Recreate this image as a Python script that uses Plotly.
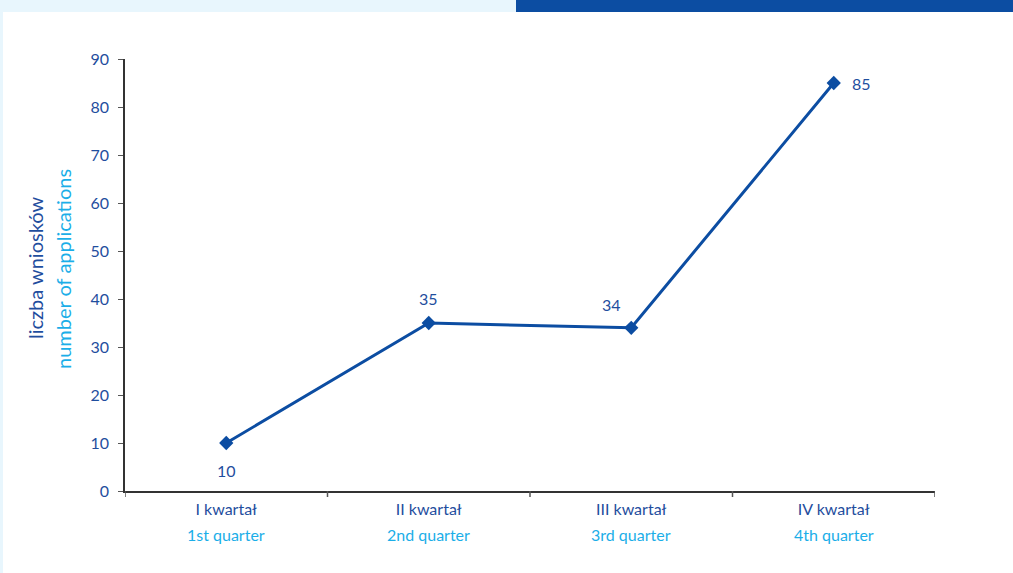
import plotly.graph_objects as go

categories_pl = ["I kwartał", "II kwartał", "III kwartał", "IV kwartał"]
categories_en = ["1st quarter", "2nd quarter", "3rd quarter", "4th quarter"]
values = [10, 35, 34, 85]
y_ticks = list(range(0, 91, 10))

DARK = "#1F4E9E"
LIGHT = "#1BAEE8"
LINE = "#0C4DA2"
FONT = "Lato, sans-serif"

W, H = 1013, 573
L, R, T, B = 125, 935, 59, 491

def px_x(p):
    return (p - L) / (R - L)

def px_y(p):
    return (B - p) / (B - T)

# label offsets (pixels) for each data label
label_shift = [(0, -27), (0, 25), (-20, 23), (28, 0)]

fig = go.Figure()
fig.add_trace(go.Scatter(
    x=list(range(len(values))), y=values,
    mode="lines+markers",
    line=dict(color=LINE, width=3),
    marker=dict(symbol="diamond", size=11, color=LINE),
    cliponaxis=False,
    hoverinfo="skip",
))

for i, v in enumerate(values):
    dx, dy = label_shift[i]
    fig.add_annotation(x=i, y=v, text=str(v), showarrow=False, xshift=dx, yshift=dy,
                       xanchor="center", yanchor="middle",
                       font=dict(family=FONT, size=16, color=DARK))

for i, t in enumerate(categories_en):
    fig.add_annotation(x=i, y=px_y(534), yref="paper", text=t, showarrow=False,
                       xanchor="center", yanchor="middle",
                       font=dict(family=FONT, size=16, color=LIGHT))

fig.add_annotation(x=px_x(35), y=px_y(268), xref="paper", yref="paper", text="liczba wniosków",
                   textangle=-90, showarrow=False, xanchor="center", yanchor="middle",
                   font=dict(family=FONT, size=20, color=DARK))
fig.add_annotation(x=px_x(63), y=px_y(269), xref="paper", yref="paper", text="number of applications",
                   textangle=-90, showarrow=False, xanchor="center", yanchor="middle",
                   font=dict(family=FONT, size=20, color=LIGHT))

shapes = [
    dict(type="rect", xref="paper", yref="paper", x0=px_x(0), x1=px_x(516), y0=px_y(12), y1=px_y(0),
         fillcolor="#E8F6FD", line=dict(width=0), layer="below"),
    dict(type="rect", xref="paper", yref="paper", x0=px_x(516), x1=px_x(W), y0=px_y(12), y1=px_y(0),
         fillcolor=LINE, line=dict(width=0), layer="below"),
    dict(type="rect", xref="paper", yref="paper", x0=px_x(0), x1=px_x(3), y0=px_y(H), y1=px_y(12),
         fillcolor="#E8F6FD", line=dict(width=0), layer="below"),
]
# category boundary ticks on the x axis
for b in [-0.5, 0.5, 1.5, 2.5, 3.5]:
    shapes.append(dict(type="line", xref="x", yref="paper", x0=b, x1=b, y0=0, y1=-6 / (B - T),
                       line=dict(color="#555555", width=1.5)))

fig.update_layout(
    width=W, height=H,
    margin=dict(l=L, r=W - R, t=T, b=H - B),
    paper_bgcolor="white", plot_bgcolor="white",
    showlegend=False,
    shapes=shapes,
    font=dict(family=FONT, size=16, color=DARK),
    xaxis=dict(
        range=[-0.5, 3.5],
        tickmode="array", tickvals=list(range(len(values))), ticktext=categories_pl,
        showline=True, linecolor="#333333", linewidth=1.5,
        ticks="outside", ticklen=0, ticklabelstandoff=3,
        showgrid=False, zeroline=False, fixedrange=True,
        tickfont=dict(family=FONT, size=16, color=DARK),
    ),
    yaxis=dict(
        range=[0, 90],
        tickmode="array", tickvals=y_ticks,
        showline=True, linecolor="#333333", linewidth=1.5,
        ticks="outside", ticklen=5, tickcolor="#555555", ticklabelstandoff=6,
        showgrid=False, zeroline=False, fixedrange=True,
        tickfont=dict(family=FONT, size=16, color=DARK),
    ),
)

fig.write_html("out.html")
